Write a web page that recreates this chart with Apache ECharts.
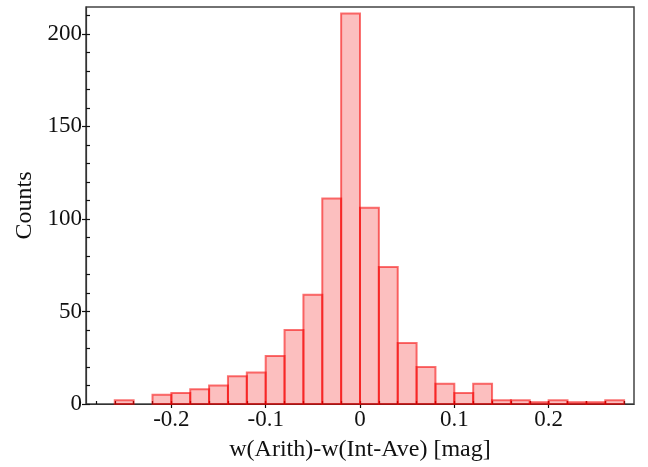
<!DOCTYPE html>
<html>
<head>
<meta charset="utf-8">
<script src="https://cdn.jsdelivr.net/npm/echarts@6/dist/echarts.min.js"></script>
<style>html,body{margin:0;padding:0;background:#fff;}#c{width:648px;height:467px;}</style>
</head>
<body>
<div id="c"></div>
<script>
// Histogram data: bin left edges (mag) and counts, bin width 0.02
const binWidth = 0.02;
const binLefts = [-0.26,-0.24,-0.22,-0.20,-0.18,-0.16,-0.14,-0.12,-0.10,-0.08,-0.06,-0.04,-0.02,0.00,0.02,0.04,0.06,0.08,0.10,0.12,0.14,0.16,0.18,0.20,0.22,0.24,0.26];
const counts   = [2,0,5,6,8,10,15,17,26,40,59,111,211,106,74,33,20,11,6,11,2,2,1,2,1,1,2];
const xLabelValues = [-0.2,-0.1,0,0.1,0.2];
const xMinorValues = [-0.28,-0.26,-0.24,-0.22,-0.2,-0.18,-0.16,-0.14,-0.12,-0.1,-0.08,-0.06,-0.04,-0.02,0,0.02,0.04,0.06,0.08,0.1,0.12,0.14,0.16,0.18,0.2,0.22,0.24,0.26,0.28];
const yLabelValues = [0,50,100,150,200];
const yMinorValues = [0,10,20,30,40,50,60,70,80,90,100,110,120,130,140,150,160,170,180,190,200,210];
const xTitle = 'w(Arith)-w(Int-Ave) [mag]';
const yTitle = 'Counts';

const xMin = -0.2905, xMax = 0.2905, yMin = 0, yMax = 214.5;
const font = 'Liberation Serif';

const data = binLefts.map((l, i) => [l, l + binWidth, counts[i]]).filter(d => d[2] > 0);

const chart = echarts.init(document.getElementById('c'), null, {renderer: 'canvas'});
const axisLineStyle = {color: '#333', width: 1.2};
chart.setOption({
  animation: false,
  backgroundColor: '#fff',
  grid: {left: 86, right: 14, top: 7, bottom: 61, show: true, borderColor: '#444', borderWidth: 1.5, backgroundColor: 'transparent'},
  xAxis: [
    {
      type: 'value', min: xMin, max: xMax, position: 'bottom',
      name: xTitle, nameLocation: 'middle', nameGap: 34,
      nameTextStyle: {fontFamily: font, fontSize: 24, color: '#111'},
      axisLine: {show: true, onZero: false, lineStyle: axisLineStyle},
      axisTick: {show: true, inside: false, length: 4, customValues: xLabelValues, lineStyle: {color: '#111', width: 1.2}},
      axisLabel: {show: true, customValues: xLabelValues, fontFamily: font, fontSize: 23, color: '#111', margin: 4,
        formatter: v => (Math.round(v * 10) / 10).toString()},
      splitLine: {show: false}
    },
    {
      type: 'value', min: xMin, max: xMax, position: 'bottom',
      axisLine: {show: false, onZero: false},
      axisTick: {show: true, inside: true, length: 3, customValues: xMinorValues, lineStyle: {color: '#111', width: 1.2}},
      axisLabel: {show: false},
      splitLine: {show: false}
    }
  ],
  yAxis: [
    {
      type: 'value', min: yMin, max: yMax, position: 'left',
      name: yTitle, nameLocation: 'middle', nameGap: 47, nameRotate: 90,
      nameTextStyle: {fontFamily: font, fontSize: 24, color: '#111'},
      axisLine: {show: true, onZero: false, lineStyle: axisLineStyle},
      axisTick: {show: true, inside: false, length: 4, customValues: yLabelValues, lineStyle: {color: '#111', width: 1.2}},
      axisLabel: {show: true, customValues: yLabelValues, fontFamily: font, fontSize: 23, color: '#111', margin: 4},
      splitLine: {show: false}
    },
    {
      type: 'value', min: yMin, max: yMax, position: 'left',
      axisLine: {show: false, onZero: false},
      axisTick: {show: true, inside: true, length: 4, customValues: yMinorValues, lineStyle: {color: '#111', width: 1.2}},
      axisLabel: {show: false},
      splitLine: {show: false}
    }
  ],
  series: [{
    type: 'custom',
    xAxisIndex: 0, yAxisIndex: 0,
    data: data,
    encode: {x: [0, 1], y: 2},
    renderItem: function (params, api) {
      const tl = api.coord([api.value(0), api.value(2)]);
      const br = api.coord([api.value(1), 0]);
      return {
        type: 'rect',
        shape: {x: tl[0], y: tl[1], width: br[0] - tl[0], height: br[1] - tl[1]},
        style: {fill: 'rgba(245,0,0,0.25)', stroke: 'rgba(245,0,0,0.55)', lineWidth: 2}
      };
    }
  }]
});
</script>
</body>
</html>
